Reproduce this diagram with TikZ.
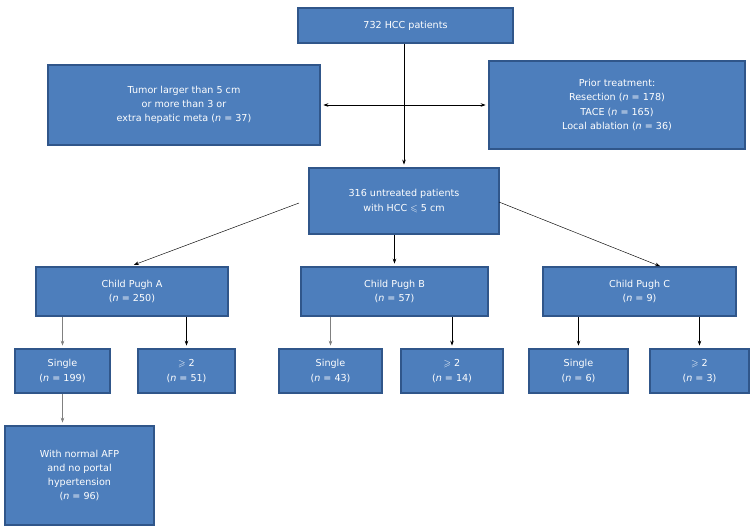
\documentclass[tikz,border=0pt]{standalone}
\usepackage{amsmath,amssymb}
\usepackage{fontspec}
\setmainfont{DejaVu Sans}
\usepackage{tikz}
\usetikzlibrary{arrows.meta,positioning}

\definecolor{boxFill}{HTML}{4D7EBC}
\definecolor{boxEdge}{HTML}{30568A}

\begin{document}
\begin{tikzpicture}[
  x=1pt, y=-1pt,
  every node/.style={font=\fontsize{9.6}{14.3}\selectfont},
  flowBox/.style={rectangle, draw=boxEdge, fill=boxFill, line width=2.8pt,
    text=white, align=center, inner sep=2pt},
  flowArrow/.style={-{Stealth[length=5pt,width=3.6pt]}, line width=0.6pt,
    shorten >=2pt},
  greyArrow/.style={flowArrow, draw=black!50, line width=0.75pt,
    -{Stealth[length=5pt,width=3.6pt,fill=black]}}
]
\useasboundingbox (0,0) rectangle (756,529);

% Top level
\node[flowBox, minimum width=215pt, minimum height=35pt] (total) at (405.5,25.5)
  {732 HCC patients};
\node[flowBox, minimum width=272pt, minimum height=80pt] (excl) at (184,105)
  {Tumor larger than 5 cm\\or more than 3 or\\extra hepatic meta (\textit{n} = 37)};
\node[flowBox, minimum width=256pt, minimum height=88pt] (prior) at (617,105)
  {Prior treatment:\\Resection (\textit{n} = 178)\\TACE (\textit{n} = 165)\\Local ablation (\textit{n} = 36)};
\node[flowBox, minimum width=190pt, minimum height=66pt] (untreated) at (404,201)
  {316 untreated patients\\with HCC \(\leqslant\) 5 cm};

% Child Pugh classes
\node[flowBox, minimum width=192pt, minimum height=49pt] (cpA) at (132,291.5)
  {Child Pugh A\\(\textit{n} = 250)};
\node[flowBox, minimum width=187pt, minimum height=49pt] (cpB) at (394.5,291.5)
  {Child Pugh B\\(\textit{n} = 57)};
\node[flowBox, minimum width=193pt, minimum height=49pt] (cpC) at (639.5,291.5)
  {Child Pugh C\\(\textit{n} = 9)};

% Tumor number
\node[flowBox, minimum width=95pt, minimum height=44pt] (singleA) at (62.5,371)
  {Single\\(\textit{n} = 199)};
\node[flowBox, minimum width=97pt, minimum height=44pt] (multiA) at (186.5,371)
  {\(\geqslant\) 2\\(\textit{n} = 51)};
\node[flowBox, minimum width=103pt, minimum height=44pt] (singleB) at (330.5,371)
  {Single\\(\textit{n} = 43)};
\node[flowBox, minimum width=102pt, minimum height=44pt] (multiB) at (452,371)
  {\(\geqslant\) 2\\(\textit{n} = 14)};
\node[flowBox, minimum width=99pt, minimum height=44pt] (singleC) at (578.5,371)
  {Single\\(\textit{n} = 6)};
\node[flowBox, minimum width=99pt, minimum height=44pt] (multiC) at (699.5,371)
  {\(\geqslant\) 2\\(\textit{n} = 3)};

\node[flowBox, minimum width=149pt, minimum height=99pt] (normalAFP) at (79.5,475.5)
  {With normal AFP\\and no portal\\hypertension\\(\textit{n} = 96)};

% Free ends of the slanted connectors
\coordinate (fanL) at (299,203);
\coordinate (fanR) at (499,202);
\coordinate (cpCin) at (662,267);

\draw[flowArrow] (total.south -| untreated.north) -- (untreated.north);
\draw[flowArrow, {Stealth[length=5pt,width=3.6pt]}-{Stealth[length=5pt,width=3.6pt]},
  shorten <=2pt] (excl.east) -- (prior.west);
\draw[flowArrow, line width=0.45pt] (fanL) -- (cpA.north);
\draw[flowArrow] (untreated.south -| cpB.north) -- (cpB.north);
\draw[flowArrow, line width=0.45pt] (fanR) -- (cpCin);

\draw[greyArrow] (cpA.south -| singleA.north) -- (singleA.north);
\draw[flowArrow] (cpA.south -| multiA.north) -- (multiA.north);
\draw[greyArrow] (cpB.south -| singleB.north) -- (singleB.north);
\draw[flowArrow] (cpB.south -| multiB.north) -- (multiB.north);
\draw[flowArrow] (cpC.south -| singleC.north) -- (singleC.north);
\draw[flowArrow] (cpC.south -| multiC.north) -- (multiC.north);
\draw[greyArrow] (singleA.south) -- (singleA.south |- normalAFP.north);
\end{tikzpicture}
\end{document}
